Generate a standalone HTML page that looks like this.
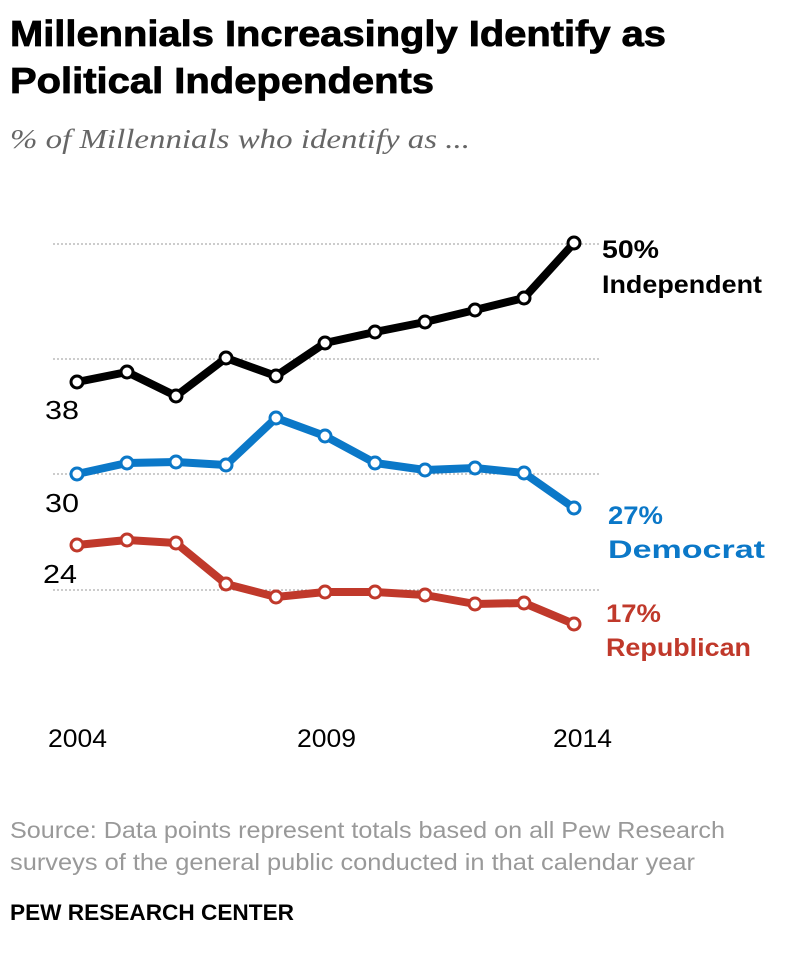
<!DOCTYPE html>
<html><head><style>
body{margin:0;background:#fff;width:792px;height:950px;overflow:hidden;font-family:"Liberation Sans",sans-serif}
</style></head><body>
<svg width="792" height="950" xmlns="http://www.w3.org/2000/svg">
<text x="10" y="46" font-size="36" font-weight="bold" fill="#000" stroke="#000" stroke-width="0.8" textLength="656" lengthAdjust="spacingAndGlyphs">Millennials Increasingly Identify as</text>
<text x="10" y="93" font-size="36" font-weight="bold" fill="#000" stroke="#000" stroke-width="0.8" textLength="424" lengthAdjust="spacingAndGlyphs">Political Independents</text>
<text x="10" y="148" font-size="27" font-style="italic" font-family="Liberation Serif" fill="#666" textLength="460" lengthAdjust="spacingAndGlyphs">% of Millennials who identify as ...</text>
<g stroke="#999" stroke-width="1" stroke-dasharray="2,2">
<line x1="53" y1="244" x2="600" y2="244"/><line x1="53" y1="359" x2="600" y2="359"/><line x1="53" y1="474" x2="600" y2="474"/><line x1="53" y1="590" x2="600" y2="590"/>
</g>
<g fill="none" stroke-width="8" stroke-linejoin="round">
<polyline stroke="#000" points="77,382 127,372 176,396 226,358 276,376 325,343 375,332 425,322 475,310 524,298 574,243"/>
<polyline stroke="#0b78c8" points="77,474 127,463 176,462 226,465 276,418 325,436 375,463 425,470 475,468 524,473 574,508"/>
<polyline stroke="#c0392b" points="77,545 127,540 176,543 226,584 276,597 325,592 375,592 425,595 475,604 524,603 574,624"/>
</g>
<g fill="#fff" stroke-width="3">
<g stroke="#000"><circle cx="77" cy="382" r="6"/><circle cx="127" cy="372" r="6"/><circle cx="176" cy="396" r="6"/><circle cx="226" cy="358" r="6"/><circle cx="276" cy="376" r="6"/><circle cx="325" cy="343" r="6"/><circle cx="375" cy="332" r="6"/><circle cx="425" cy="322" r="6"/><circle cx="475" cy="310" r="6"/><circle cx="524" cy="298" r="6"/><circle cx="574" cy="243" r="6"/></g>
<g stroke="#0b78c8"><circle cx="77" cy="474" r="6"/><circle cx="127" cy="463" r="6"/><circle cx="176" cy="462" r="6"/><circle cx="226" cy="465" r="6"/><circle cx="276" cy="418" r="6"/><circle cx="325" cy="436" r="6"/><circle cx="375" cy="463" r="6"/><circle cx="425" cy="470" r="6"/><circle cx="475" cy="468" r="6"/><circle cx="524" cy="473" r="6"/><circle cx="574" cy="508" r="6"/></g>
<g stroke="#c0392b"><circle cx="77" cy="545" r="6"/><circle cx="127" cy="540" r="6"/><circle cx="176" cy="543" r="6"/><circle cx="226" cy="584" r="6"/><circle cx="276" cy="597" r="6"/><circle cx="325" cy="592" r="6"/><circle cx="375" cy="592" r="6"/><circle cx="425" cy="595" r="6"/><circle cx="475" cy="604" r="6"/><circle cx="524" cy="603" r="6"/><circle cx="574" cy="624" r="6"/></g>
</g>
<g font-size="26" fill="#000"><text x="45" y="419" textLength="34" lengthAdjust="spacingAndGlyphs">38</text><text x="45" y="512" textLength="34" lengthAdjust="spacingAndGlyphs">30</text><text x="43" y="583" textLength="34" lengthAdjust="spacingAndGlyphs">24</text></g>
<g font-size="25" font-weight="bold">
<text x="602" y="258" fill="#000" textLength="57" lengthAdjust="spacingAndGlyphs">50%</text><text x="602" y="293" fill="#000" textLength="160" lengthAdjust="spacingAndGlyphs">Independent</text>
<text x="608" y="524" fill="#0b78c8" textLength="55" lengthAdjust="spacingAndGlyphs">27%</text><text x="608" y="558" fill="#0b78c8" textLength="157" lengthAdjust="spacingAndGlyphs">Democrat</text>
<text x="606" y="622" fill="#c0392b" textLength="55" lengthAdjust="spacingAndGlyphs">17%</text><text x="606" y="656" fill="#c0392b" textLength="145" lengthAdjust="spacingAndGlyphs">Republican</text>
</g>
<g font-size="25" fill="#000"><text x="48" y="747" textLength="59" lengthAdjust="spacingAndGlyphs">2004</text><text x="297" y="747" textLength="59" lengthAdjust="spacingAndGlyphs">2009</text><text x="553" y="747" textLength="59" lengthAdjust="spacingAndGlyphs">2014</text></g>
<g font-size="23" fill="#999"><text x="10" y="838" textLength="715" lengthAdjust="spacingAndGlyphs">Source: Data points represent totals based on all Pew Research</text><text x="10" y="870" textLength="685" lengthAdjust="spacingAndGlyphs">surveys of the general public conducted in that calendar year</text></g>
<text x="10" y="920" font-size="22" font-weight="bold" fill="#000" textLength="284" lengthAdjust="spacingAndGlyphs">PEW RESEARCH CENTER</text>
</svg>
</body></html>
